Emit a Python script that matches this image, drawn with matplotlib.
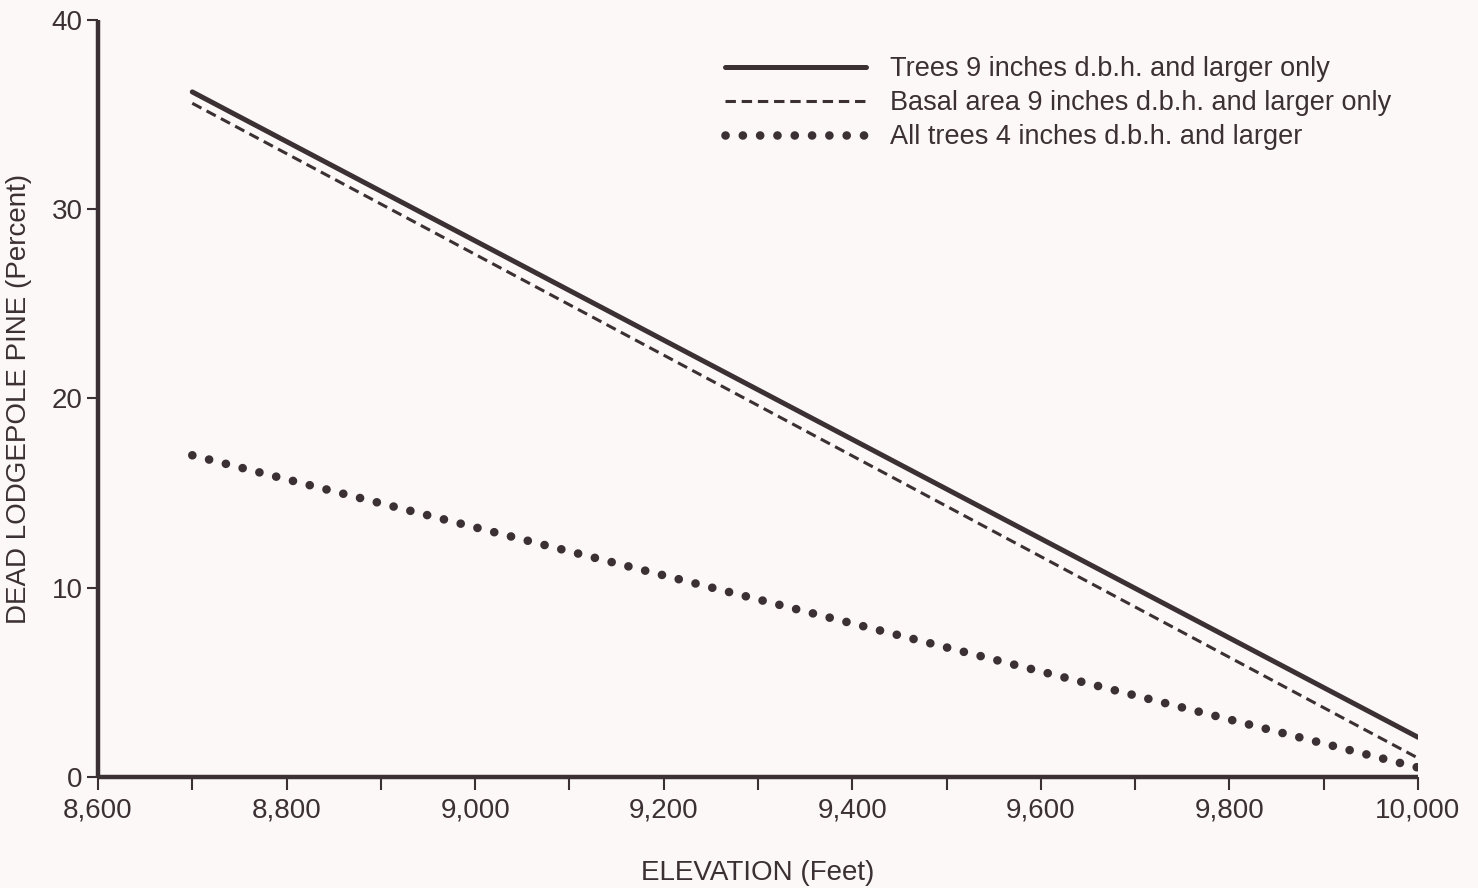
import matplotlib
matplotlib.use("Agg")
import matplotlib.pyplot as plt
from matplotlib.ticker import MultipleLocator

# data
elevation = [8700, 10000]
trees_9in = [36.2, 2.1]
basal_9in = [35.6, 1.0]
all_4in = [17.0, 0.5]

labels = ["Trees 9 inches d.b.h. and larger only",
          "Basal area 9 inches d.b.h. and larger only",
          "All trees 4 inches d.b.h. and larger"]

x_ticks = [8600, 8800, 9000, 9200, 9400, 9600, 9800, 10000]
x_ticklabels = ["8,600", "8,800", "9,000", "9,200", "9,400", "9,600", "9,800", "10,000"]
y_ticks = [0, 10, 20, 30, 40]

ink = "#3b3034"
bg = "#fcf8f7"

plt.rcParams.update({
    "font.family": ["Liberation Sans", "DejaVu Sans"],
    "text.color": ink,
    "axes.labelcolor": ink,
    "xtick.color": ink,
    "ytick.color": ink,
})

fig = plt.figure(figsize=(14.78, 8.88), dpi=100, facecolor=bg)
ax = fig.add_axes([98 / 1478, 1 - 777 / 888, 1320 / 1478, 757 / 888])
ax.set_facecolor(bg)

ax.plot(elevation, trees_9in, color=ink, lw=3.6, solid_capstyle="round", label=labels[0])
ax.plot(elevation, basal_9in, color=ink, lw=2.2, linestyle=(0, (3.4, 1.9)), label=labels[1])
ax.plot(elevation, all_4in, color=ink, lw=6.2, linestyle=(0, (0.01, 2.0)),
        dash_capstyle="round", label=labels[2])

ax.set_xlim(8600, 10000)
ax.set_ylim(0, 40)
ax.set_xticks(x_ticks)
ax.set_xticklabels(x_ticklabels)
ax.xaxis.set_minor_locator(MultipleLocator(100))
ax.set_yticks(y_ticks)

for s in ["top", "right"]:
    ax.spines[s].set_visible(False)
for s in ["left", "bottom"]:
    ax.spines[s].set_linewidth(3.2)
    ax.spines[s].set_color(ink)
    ax.spines[s].set_capstyle("butt")

ax.tick_params(axis="x", which="both", direction="out", length=9, width=1.5,
               labelsize=20, pad=6)
ax.tick_params(axis="y", direction="out", length=8, width=1.5, labelsize=20, pad=3)

ax.set_xlabel("ELEVATION (Feet)", fontsize=20)
ax.xaxis.set_label_coords(0.5, -0.11)
ax.set_ylabel("DEAD LODGEPOLE PINE (Percent)", fontsize=20)
ax.yaxis.set_label_coords(-0.05, 0.5)

leg = ax.legend(loc="upper left", bbox_to_anchor=(725 / 1478, 1 - 56 / 888),
                bbox_transform=fig.transFigure, frameon=False, fontsize=19.5,
                handlelength=5.2, handletextpad=0.9, labelspacing=0.3,
                borderpad=0, borderaxespad=0)
for t in leg.get_texts():
    t.set_color(ink)

fig.savefig("out.png", dpi=100, facecolor=bg)
